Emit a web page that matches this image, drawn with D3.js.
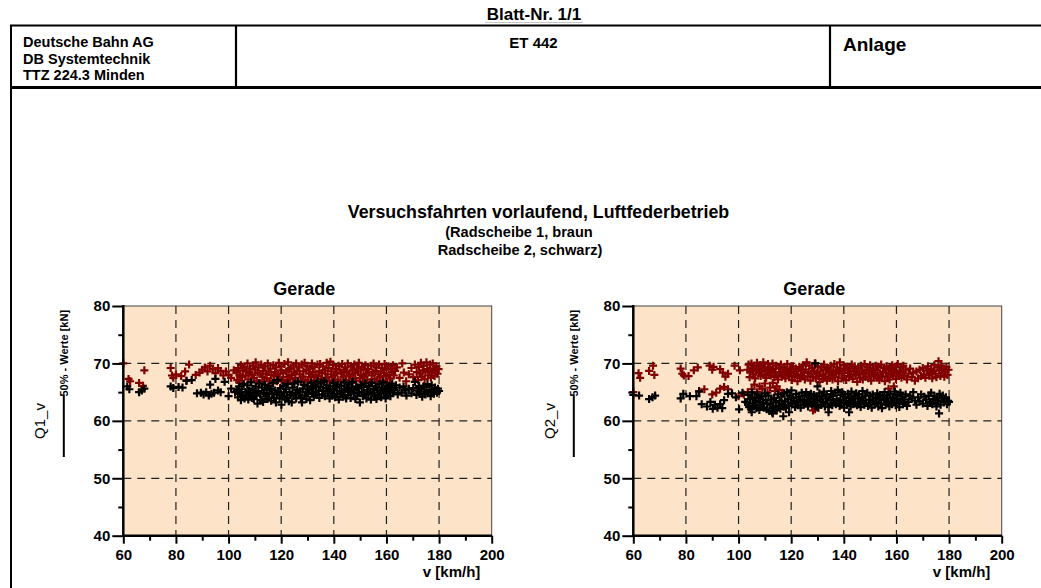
<!DOCTYPE html>
<html>
<head>
<meta charset="utf-8">
<script src="https://cdn.jsdelivr.net/npm/d3@7"></script>
<style>
  body { margin: 0; background: #fff; }
  text { font-family: "Liberation Sans", Arial, sans-serif; fill: #000; }
</style>
</head>
<body>
<svg id="chart" width="1041" height="588"></svg>
<script>

// ---------------------------------------------------------------------------
// data: [v km/h, Q kN]

const xTicks = [60, 80, 100, 120, 140, 160, 180, 200];
const xMinor = [70, 90, 110, 130, 150, 170, 190];
const yTicks = [40, 50, 60, 70, 80];
const yMinor = [45, 55, 65, 75];
const xGrid = [80, 100, 120, 140, 160, 180];
const yGrid = [50, 60, 70];

// Radscheibe 1 (braun), Q1
const q1Braun = [
  [60,70.0],[62,67.3],[62.6,66.9],[66,66.6],[67.5,66.1],[68,68.8],[78,69.2],[78.5,67.9],[79,67.5],[80,68.1],
  [82,67.8],[83.5,68.6],[84,67.0],[85,69.8],[87.5,68.0],[89,68.4],[90,68.9],[91,69.3],[92,68.6],[93,69.6],
  [94,69.0],[95,68.3],[96,69.2],[97,68.7],[98,67.9],[99,68.6],[100,68.0],[101,67.5],[102,68.8],
  [103.0,68.4],[103.3,67.1],[103.7,69.2],[104.0,66.7],[104.4,68.0],[104.7,69.7],[105.1,67.6],[105.4,68.8],[105.8,66.5],[106.1,69.4],
  [106.5,67.9],[106.8,68.6],[107.2,70.0],[107.5,67.2],[107.9,68.3],[108.2,69.1],[108.6,66.8],[108.9,68.0],[109.3,69.6],[109.6,67.5],
  [110.0,68.9],[110.3,70.2],[110.7,67.0],[111.0,68.4],[111.4,69.3],[111.7,66.6],[112.1,68.1],[112.4,69.8],[112.8,67.7],[113.1,68.7],
  [113.5,66.9],[113.8,69.5],[114.2,68.2],[114.5,67.4],[114.9,70.0],[115.2,68.6],[115.6,67.0],[115.9,69.1],[116.3,68.0],[116.6,66.5],
  [117.0,69.7],[117.3,67.8],[117.7,68.5],[118.0,69.3],[118.4,66.9],[118.7,68.1],[119.1,70.1],[119.4,67.4],[119.8,68.8],[120.1,69.5],
  [120.5,67.1],[120.8,68.3],[121.2,69.9],[121.5,66.7],[121.9,68.6],[122.2,67.6],[122.6,70.2],[122.9,68.9],[123.3,67.3],[123.6,69.2],
  [124.0,68.0],[124.3,66.6],[124.7,69.6],[125.0,68.4],[125.4,67.5],[125.7,70.0],[126.1,68.7],[126.4,67.0],[126.8,69.3],[127.1,68.1],
  [127.5,66.8],[127.8,69.8],[128.2,67.7],[128.5,68.6],[128.9,70.1],[129.2,67.2],[129.6,68.9],[129.9,69.5],[130.3,66.9],[130.6,68.2],
  [131.0,69.1],[131.3,67.6],[131.7,70.0],[132.0,68.5],[132.4,67.0],[132.7,69.4],[133.1,68.0],[133.4,66.6],[133.8,69.8],[134.1,67.8],
  [134.5,68.7],[134.8,69.9],[135.2,67.3],[135.5,68.3],[135.9,69.5],[136.2,66.8],[136.6,68.8],[136.9,67.5],[137.3,70.1],[137.6,68.1],
  [138.0,69.2],[138.3,67.0],[138.7,70.3],[139.0,68.6],[139.4,67.6],[139.7,69.7],[140.1,68.0],[140.4,66.7],[140.8,69.0],[141.1,68.4],
  [141.5,67.2],[141.8,69.6],[142.2,68.9],[142.5,66.9],[142.9,68.2],[143.2,69.9],[143.6,67.7],[143.9,68.5],[144.3,69.3],[144.6,67.1],
  [145.0,68.7],[145.3,70.0],[145.7,67.8],[146.0,68.1],[146.4,69.5],[146.7,66.6],[147.1,68.8],[147.4,67.4],[147.8,69.8],[148.1,68.3],
  [148.5,67.0],[148.8,69.1],[149.2,68.6],[149.5,70.1],[149.9,67.5],[150.2,68.0],[150.6,69.4],[150.9,66.8],[151.3,68.9],[151.6,67.7],
  [152.0,69.7],[152.3,68.2],[152.7,67.2],[153.0,69.0],[153.4,68.5],[153.7,66.7],[154.1,69.6],[154.4,67.9],[154.8,68.4],[155.1,70.0],
  [155.5,67.3],[155.8,68.7],[156.2,69.3],[156.5,66.9],[156.9,68.1],[157.2,69.8],[157.6,67.6],[157.9,68.6],[158.3,69.2],[158.6,67.0],
  [159.0,68.3],[159.3,69.9],[159.7,67.8],[160.0,68.9],[160.4,66.6],[160.7,69.5],[161.1,68.0],[161.4,67.4],[161.8,69.1],[162.1,68.5],
  [162.5,69.7],[162.8,67.9],[163.3,68.7],[164.0,69.3],[165.0,67.5],[166.0,70.0],[166.6,68.4],[167.5,66.9],[168.5,68.1],[169.5,69.2],
  [170.2,67.6],[170.8,69.8],[171.5,68.5],[172.0,67.1],[172.4,69.4],[172.7,68.2],[173.1,70.1],[173.4,67.7],[173.8,68.8],[174.1,69.6],
  [174.5,67.3],[174.8,68.5],[175.2,70.2],[175.5,69.0],[175.9,67.9],[176.2,68.7],[176.6,69.8],[176.9,67.5],[177.3,68.4],[177.6,70.0],
  [178.0,69.1],[178.3,67.8],[178.7,68.6],[179.0,69.5],[179.4,68.2],[179.8,69.0]
];

// Radscheibe 2 (schwarz), Q1
const q1Schwarz = [
  [61.5,66.0],[62.3,65.5],[66,65.0],[67,65.3],[68,65.6],[78,66.0],[79,65.7],[81,65.9],[82.5,65.8],[84,67.0],
  [86,67.1],[88,64.8],[89.5,64.9],[90.5,64.6],[91.5,65.0],[92.5,64.4],[93,66.3],[93.5,64.7],[94.5,64.9],[95,67.3],
  [96,65.3],[97,65.0],[98.5,66.8],[100,64.3],[101,65.6],[102.5,65.0],
  [103.2,65.2],[103.6,64.1],[104.0,66.0],[104.3,64.7],[104.7,63.6],[105.0,65.5],[105.4,64.3],[105.7,66.4],[106.1,63.9],[106.4,65.0],
  [106.8,64.5],[107.1,66.2],[107.5,63.7],[107.8,65.3],[108.2,64.8],[108.5,66.7],[108.9,64.0],[109.2,65.6],[109.6,63.8],[109.9,64.9],
  [110.3,66.0],[110.6,64.4],[111.0,63.0],[111.3,65.2],[111.7,66.5],[112.0,64.6],[112.4,63.6],[112.7,65.8],[113.1,63.3],[113.4,64.9],
  [113.8,66.3],[114.1,64.2],[114.5,65.4],[114.8,63.8],[115.2,66.0],[115.5,64.7],[115.9,65.6],[116.2,63.5],[116.6,64.8],[116.9,66.6],
  [117.3,64.0],[117.6,65.3],[118.0,63.2],[118.3,64.6],[118.7,67.1],[119.0,65.0],[119.4,63.9],[119.7,65.7],[120.1,62.8],[120.4,64.4],
  [120.8,66.1],[121.1,64.9],[121.5,63.7],[121.8,65.5],[122.2,64.1],[122.5,66.4],[122.9,63.4],[123.2,65.0],[123.6,64.5],[124.0,63.2],
  [124.3,65.8],[124.7,64.3],[125.0,66.5],[125.4,64.8],[125.7,63.9],[126.1,65.4],[126.4,66.8],[126.8,64.6],[127.1,65.1],[127.5,64.0],
  [127.9,63.2],[128.2,65.6],[128.6,66.3],[128.9,64.4],[129.3,65.0],[129.6,63.8],[130.0,66.0],[130.3,64.7],[130.7,65.4],[131.0,63.6],
  [131.4,66.6],[131.7,64.9],[132.1,65.7],[132.4,64.2],[132.8,66.2],[133.1,65.0],[133.5,64.5],[133.8,66.9],[134.2,65.3],[134.5,64.0],
  [134.9,65.9],[135.2,66.5],[135.6,64.6],[135.9,65.2],[136.3,67.0],[136.6,64.3],[137.0,65.7],[137.3,66.2],[137.7,64.8],[138.0,65.4],
  [138.4,63.9],[138.7,66.0],[139.1,65.0],[139.4,64.4],[139.8,66.6],[140.1,65.5],[140.5,64.1],[140.8,65.9],[141.2,64.7],[141.5,66.3],
  [141.9,63.7],[142.2,65.2],[142.6,64.6],[142.9,66.1],[143.3,65.0],[143.6,64.2],[144.0,66.7],[144.3,65.4],[144.7,63.9],[145.0,65.8],
  [145.4,64.5],[145.7,66.4],[146.1,65.1],[146.4,64.0],[146.8,65.6],[147.1,66.8],[147.5,64.8],[147.8,65.3],[148.2,63.8],[148.5,66.0],
  [148.9,64.4],[149.2,65.7],[149.6,64.9],[149.9,63.2],[150.3,66.3],[150.6,65.0],[151.0,64.3],[151.3,65.9],[151.7,64.7],[152.0,66.5],
  [152.4,63.9],[152.7,65.4],[153.1,64.6],[153.4,66.1],[153.8,65.1],[154.1,63.7],[154.5,66.6],[154.8,64.9],[155.2,65.6],[155.5,64.2],
  [155.9,66.0],[156.2,63.8],[156.6,65.3],[156.9,64.5],[157.3,66.4],[157.6,65.0],[158.0,64.1],[158.3,65.8],[158.7,66.7],[159.0,64.8],
  [159.4,65.5],[159.7,63.9],[160.1,66.2],[160.4,64.6],[160.8,65.2],[161.1,66.0],[161.5,64.3],[161.8,65.7],[162.2,66.5],[162.5,64.9],
  [163.0,65.4],[163.6,66.2],[164.3,64.6],[165.0,65.8],[165.8,64.9],[166.5,66.0],[167.0,65.3],[167.6,64.4],[168.5,65.6],[169.5,64.8],
  [170.2,65.7],[170.8,66.8],[171.4,64.5],[172.0,65.3],[172.4,66.1],[172.8,64.7],[173.2,65.6],[173.6,64.2],[174.0,66.0],[174.4,65.1],
  [174.8,64.6],[175.2,65.9],[175.6,66.4],[176.0,64.9],[176.4,65.4],[176.8,64.3],[177.2,66.2],[177.6,65.0],[178.0,64.7],[178.4,65.8],
  [178.8,65.3],[179.2,64.9],[179.6,65.6],[180.0,65.2]
];

// Radscheibe 1 (braun), Q2
const q2Braun = [
  [60,65.0],[62,68.3],[62.6,67.5],[66,68.7],[67.5,69.6],[68,68.0],[78,69.1],[78.6,68.2],[79.2,67.9],[81,67.8],
  [83,68.8],[84.5,69.3],[89,69.6],[90,68.9],[90.5,69.4],[93,69.0],[94,68.4],[95,67.7],[96,68.2],[98.5,69.6],[100.5,68.8],
  [85,65.2],[87,65.5],[90,64.6],[91.5,64.9],[93,65.6],[94.5,65.9],[96,65.5],[100,64.3],[102,64.6],[103.5,65.0],
  [105,65.5],[106,66.3],[107,65.0],[108,66.0],[109,65.6],[110,66.5],[111,64.9],[112,65.8],[113,66.6],[113.8,65.2],
  [114.5,66.0],[115.5,65.4],[116.5,64.8],[117.2,62.5],[128.3,61.8],[129,62.0],[157,65.6],[159,66.0],
  [103.4,68.9],[103.8,69.8],[104.2,67.6],[104.5,68.5],[104.9,70.0],[105.2,69.2],[105.6,68.1],[105.9,69.6],[106.3,67.4],[106.6,68.8],
  [107.0,70.1],[107.3,69.0],[107.7,68.3],[108.0,69.7],[108.4,67.8],[108.7,68.6],[109.1,69.4],[109.4,70.2],[109.8,68.0],[110.1,69.1],
  [110.5,67.5],[110.8,68.7],[111.2,69.9],[111.5,68.2],[111.9,69.3],[112.2,67.9],[112.6,68.8],[112.9,70.0],[113.3,69.0],[113.6,67.6],
  [114.0,68.4],[114.3,69.6],[114.7,68.0],[115.0,67.2],[115.4,69.2],[115.7,68.5],[116.1,69.8],[116.4,67.7],[116.8,68.9],[117.1,68.1],
  [117.5,69.4],[117.8,67.4],[118.2,68.6],[118.5,69.9],[118.9,68.3],[119.2,67.8],[119.6,69.0],[119.9,68.5],[120.3,67.1],[120.6,69.5],
  [121.0,68.2],[121.3,67.6],[121.7,69.1],[122.0,68.7],[122.4,66.9],[122.7,68.0],[123.1,69.4],[123.4,67.5],[123.8,68.8],[124.1,67.9],
  [124.5,69.7],[124.8,68.4],[125.2,67.2],[125.5,68.9],[125.9,70.2],[126.2,67.7],[126.6,68.5],[126.9,69.6],[127.3,67.0],[127.6,68.2],
  [128.0,69.2],[128.3,67.6],[128.7,68.7],[129.0,70.0],[129.4,67.4],[129.7,68.3],[130.1,69.5],[130.4,67.8],[130.8,66.8],[131.1,68.6],
  [131.5,69.3],[131.8,67.3],[132.2,68.1],[132.5,69.8],[132.9,67.7],[133.2,68.9],[133.6,67.0],[133.9,69.2],[134.3,68.4],[134.6,67.5],
  [135.0,69.6],[135.3,68.0],[135.7,67.2],[136.0,68.8],[136.4,69.9],[136.7,67.6],[137.1,68.5],[137.4,69.3],[137.8,66.9],[138.1,68.2],
  [138.5,70.2],[138.8,69.0],[139.2,67.4],[139.5,68.6],[139.9,69.7],[140.2,67.8],[140.6,68.9],[140.9,67.1],[141.3,69.4],[141.6,68.3],
  [142.0,67.6],[142.3,69.1],[142.7,68.0],[143.0,69.8],[143.4,67.3],[143.7,68.7],[144.1,69.5],[144.4,67.9],[144.8,68.4],[145.1,66.8],
  [145.5,69.2],[145.8,68.1],[146.2,67.5],[146.5,69.6],[146.9,68.8],[147.2,67.2],[147.6,68.4],[147.9,69.9],[148.3,67.7],[148.6,68.9],
  [149.0,69.3],[149.3,67.4],[149.7,68.2],[150.0,69.7],[150.4,67.0],[150.7,68.6],[151.1,69.1],[151.4,67.8],[151.8,68.3],[152.1,69.6],
  [152.5,67.5],[152.8,68.8],[153.2,69.4],[153.5,67.1],[153.9,68.0],[154.2,69.8],[154.6,67.7],[154.9,68.5],[155.3,69.2],[155.6,66.9],
  [156.0,68.4],[156.3,69.5],[156.7,67.6],[157.0,68.9],[157.4,67.2],[157.7,69.0],[158.1,68.1],[158.4,69.7],[158.8,67.8],[159.1,68.6],
  [159.5,69.4],[159.8,67.3],[160.2,68.3],[160.5,69.9],[160.9,67.9],[161.2,68.7],[161.6,69.3],[161.9,67.5],[162.3,68.5],[162.6,69.6],
  [163.0,67.8],[163.5,68.9],[164.0,67.2],[164.6,68.2],[165.2,69.1],[165.8,67.6],[166.4,68.4],[167.0,67.0],[167.6,68.6],[168.2,67.4],
  [168.8,68.9],[169.4,67.8],[170.0,69.2],[170.5,68.1],[171.0,67.5],[171.5,68.8],[172.0,69.5],[172.4,67.9],[172.8,68.4],[173.2,69.0],
  [173.6,67.4],[174.0,68.6],[174.4,69.7],[174.8,68.2],[175.2,67.6],[175.6,69.3],[176.0,70.4],[176.3,68.8],[176.7,67.8],[177.0,69.6],
  [177.4,68.3],[177.8,69.1],[178.2,67.7],[178.6,68.7],[179.0,69.4],[179.4,68.0],[179.8,68.9]
];

// Radscheibe 2 (schwarz), Q2
const q2Schwarz = [
  [60,64.5],[62.2,64.4],[66,63.8],[67.3,64.1],[68.3,64.4],[78,63.9],[79,64.7],[81.5,64.3],[84,64.3],[85,65.1],
  [86,62.9],[88,62.5],[89.3,63.3],[90.2,62.1],[91,62.8],[92,62.3],[93,62.9],[93.8,62.2],[94.5,63.6],[96,64.7],
  [97.5,64.8],[99,64.1],[100.2,62.0],[101.5,64.9],[102.5,63.3],
  [129.2,70.0],[130,66.0],[117,60.8],[119.2,61.5],[134.2,61.5],[142,61.5],[176.2,61.3],[105,61.5],[113,61.3],
  [103.3,63.2],[103.7,64.5],[104.0,62.4],[104.4,63.8],[104.7,62.0],[105.1,64.9],[105.4,63.0],[105.8,62.6],[106.1,64.1],[106.5,63.5],
  [106.8,62.2],[107.2,64.6],[107.5,63.3],[107.9,61.9],[108.2,63.9],[108.6,62.7],[108.9,64.3],[109.3,63.1],[109.6,62.3],[110.0,64.8],
  [110.3,63.6],[110.7,62.0],[111.0,63.0],[111.4,64.4],[111.7,61.7],[112.1,62.8],[112.4,63.7],[112.8,61.5],[113.1,62.4],[113.5,64.0],
  [113.8,62.0],[114.2,63.2],[114.5,61.8],[114.9,64.6],[115.2,62.6],[115.6,63.5],[115.9,62.1],[116.3,64.2],[116.6,63.0],[117.0,62.5],
  [117.3,64.8],[117.7,63.4],[118.0,62.2],[118.4,65.0],[118.7,63.8],[119.1,62.7],[119.4,64.4],[119.8,63.1],[120.1,65.3],[120.5,62.9],
  [120.8,64.0],[121.2,63.5],[121.5,62.4],[121.9,64.7],[122.2,63.2],[122.6,62.7],[122.9,64.2],[123.3,63.7],[123.6,62.3],[124.0,64.9],
  [124.3,63.4],[124.7,62.8],[125.0,64.4],[125.4,63.0],[125.7,65.0],[126.1,63.6],[126.4,62.5],[126.8,64.1],[127.1,63.2],[127.5,64.7],
  [127.9,62.9],[128.2,63.8],[128.6,64.5],[128.9,63.1],[129.3,62.6],[129.6,64.2],[130.0,63.5],[130.3,62.3],[130.7,64.8],[131.0,63.7],
  [131.4,62.8],[131.7,64.3],[132.1,63.3],[132.4,65.1],[132.8,62.5],[133.1,63.9],[133.5,64.6],[133.8,63.0],[134.2,62.4],[134.5,64.1],
  [134.9,63.6],[135.2,65.2],[135.6,62.7],[135.9,64.4],[136.3,63.2],[136.6,64.9],[137.0,62.9],[137.3,63.8],[137.7,65.4],[138.0,63.4],
  [138.4,62.6],[138.7,64.5],[139.1,63.1],[139.4,65.0],[139.8,63.7],[140.1,62.3],[140.5,64.2],[140.8,63.5],[141.2,62.8],[141.5,64.7],
  [141.9,63.3],[142.2,64.0],[142.6,62.5],[142.9,65.1],[143.3,63.6],[143.6,62.9],[144.0,64.3],[144.3,63.0],[144.7,64.8],[145.0,62.7],
  [145.4,63.9],[145.7,64.6],[146.1,63.2],[146.4,62.4],[146.8,64.1],[147.1,65.2],[147.5,63.5],[147.8,62.8],[148.2,64.4],[148.5,63.1],
  [148.9,64.9],[149.2,62.6],[149.6,63.7],[149.9,64.3],[150.3,63.0],[150.6,62.3],[151.0,64.6],[151.3,63.4],[151.7,62.9],[152.0,64.0],
  [152.4,63.3],[152.7,64.8],[153.1,62.5],[153.4,63.8],[153.8,64.5],[154.1,63.0],[154.5,62.2],[154.8,64.2],[155.2,63.6],[155.5,65.0],
  [155.9,62.8],[156.2,63.9],[156.6,64.4],[156.9,63.2],[157.3,62.5],[157.6,64.7],[158.0,63.4],[158.3,62.9],[158.7,64.1],[159.0,63.6],
  [159.4,65.1],[159.7,62.7],[160.1,63.8],[160.4,64.5],[160.8,63.1],[161.1,62.4],[161.5,64.9],[161.8,63.5],[162.2,64.2],[162.5,62.9],
  [163.0,63.7],[163.5,64.6],[164.0,62.6],[164.6,63.3],[165.2,64.3],[165.8,63.9],[166.4,65.0],[167.0,63.5],[167.6,62.8],[168.2,64.1],
  [168.8,63.4],[169.4,64.6],[170.0,63.0],[170.6,64.2],[171.2,63.7],[171.8,62.6],[172.3,64.4],[172.8,63.3],[173.2,64.9],[173.6,62.9],
  [174.0,63.8],[174.4,64.3],[174.8,63.1],[175.2,62.5],[175.6,64.0],[176.0,63.5],[176.4,64.7],[176.8,62.8],[177.2,63.9],[177.6,64.4],
  [178.0,63.2],[178.4,63.7],[178.8,64.1],[179.2,62.9],[179.6,63.5],[180.0,63.3]
];

//-------------------------------------------------------------------------------

const BRAUN = '#800000';
const PEACH = '#fde4c8';
const svg = d3.select('#chart');

// sheet frame (title block)
function DrawSheet() {
    const ln = (x1, y1, x2, y2, w, c) => svg.append('line')
        .attr('x1', x1).attr('y1', y1).attr('x2', x2).attr('y2', y2)
        .attr('stroke', c || '#000').attr('stroke-width', w);

    ln(485, 22.5, 583, 22.5, 1, '#c8c8c8');       // faint underline of Blatt-Nr.
    ln(10, 25.5, 1041, 25.5, 2);
    ln(10, 87.5, 1041, 87.5, 3);
    ln(11, 25, 11, 588, 2);
    ln(236, 25, 236, 88, 2.2);
    ln(830, 25, 830, 88, 2.2);

    const txt = (s, x, y, size, anchor) => svg.append('text')
        .attr('x', x).attr('y', y)
        .attr('font-size', size).attr('font-weight', 'bold')
        .attr('text-anchor', anchor || 'start')
        .text(s);

    txt('Blatt-Nr. 1/1', 534, 20, 17, 'middle');
    txt('Deutsche Bahn AG', 23, 47, 14.5);
    txt('DB Systemtechnik', 23, 63.5, 14.5);
    txt('TTZ 224.3 Minden', 23, 80, 14.5);
    txt('ET 442', 533.5, 48, 15, 'middle');
    txt('Anlage', 843, 51, 19);

    txt('Versuchsfahrten vorlaufend, Luftfederbetrieb', 538.5, 218, 17.8, 'middle');
    txt('(Radscheibe 1, braun', 519, 236.5, 14.6, 'middle');
    txt('Radscheibe 2, schwarz)', 520, 255, 14.6, 'middle');
}

//-------------------------------------------------------------------------------
// one scatter panel; left = pixel x of the v=60 axis

function DrawPanel(left, qName, braun, schwarz) {

    const top = 306, bottom = 535.7, width = 368.4;

    const x = d3.scaleLinear().domain([60, 200]).range([left, left + width]);
    const y = d3.scaleLinear().domain([40, 80]).range([bottom, top]);

    const g = svg.append('g');

    g.append('rect')
        .attr('x', x(60)).attr('y', y(80))
        .attr('width', x(200) - x(60)).attr('height', y(40) - y(80))
        .attr('fill', PEACH)
        .attr('stroke', '#444').attr('stroke-width', 1);

    // dashed grid
    g.selectAll('.vgrid').data(xGrid).join('line')
        .attr('x1', x).attr('x2', x)
        .attr('y1', y(80)).attr('y2', y(40))
        .attr('stroke', '#222').attr('stroke-width', 1.2).attr('stroke-dasharray', '8,6');
    g.selectAll('.hgrid').data(yGrid).join('line')
        .attr('x1', x(60)).attr('x2', x(200))
        .attr('y1', y).attr('y2', y)
        .attr('stroke', '#222').attr('stroke-width', 1.2).attr('stroke-dasharray', '8,6');

    // crosses
    const cross = 'M-4,0H4M0,-4V4';
    const plot = (data, colour) => g.append('g').selectAll('path')
        .data(data).join('path')
        .attr('d', cross)
        .attr('transform', d => `translate(${x(d[0])},${y(d[1])})`)
        .attr('stroke', colour).attr('stroke-width', 2.2).attr('fill', 'none');

    plot(braun, BRAUN);
    plot(schwarz, '#000');

    // axes
    g.append('g').attr('transform', `translate(0,${bottom})`)
        .call(d3.axisBottom(x).tickValues(xTicks).tickSize(8).tickPadding(6).tickFormat(d3.format('d')));
    g.append('g').attr('transform', `translate(0,${bottom})`)
        .call(d3.axisBottom(x).tickValues(xMinor).tickSize(5).tickFormat(''));
    g.append('g').attr('transform', `translate(${left},0)`)
        .call(d3.axisLeft(y).tickValues(yTicks).tickSize(11).tickPadding(2).tickFormat(d3.format('d')));
    g.append('g').attr('transform', `translate(${left},0)`)
        .call(d3.axisLeft(y).tickValues(yMinor).tickSize(5).tickFormat(''));

    g.selectAll('.domain').remove();
    g.selectAll('.tick line').attr('stroke', '#000').attr('stroke-width', 2);
    g.selectAll('.tick text')
        .attr('font-size', 15).attr('font-weight', 'bold')
        .attr('font-family', '"Liberation Sans", Arial, sans-serif').attr('fill', '#000');

    // heavy left & bottom axis lines
    g.append('line').attr('x1', x(60)).attr('x2', x(60)).attr('y1', y(80) - 1).attr('y2', y(40) + 1)
        .attr('stroke', '#000').attr('stroke-width', 2.5);
    g.append('line').attr('x1', x(60) - 1).attr('x2', x(200)).attr('y1', y(40)).attr('y2', y(40))
        .attr('stroke', '#000').attr('stroke-width', 2.5);

    // titles
    g.append('text').attr('x', left + 181).attr('y', 295)
        .attr('text-anchor', 'middle').attr('font-size', 18).attr('font-weight', 'bold')
        .text('Gerade');
    g.append('text').attr('x', left + 357).attr('y', 577)
        .attr('text-anchor', 'end').attr('font-size', 15).attr('font-weight', 'bold')
        .text('v [km/h]');

    // y-axis label as fraction: Q?_v over "50% - Werte [kN]"
    g.append('text')
        .attr('transform', `translate(${left - 78},421) rotate(-90)`)
        .attr('text-anchor', 'middle').attr('font-size', 15)
        .text(qName);
    g.append('line')
        .attr('x1', left - 59.5).attr('x2', left - 59.5).attr('y1', 396).attr('y2', 457)
        .attr('stroke', '#000').attr('stroke-width', 2);
    g.append('text')
        .attr('transform', `translate(${left - 55},396.5) rotate(-90)`)
        .attr('font-size', 11).attr('font-weight', 'bold')
        .text('50% - Werte [kN]');
}

DrawSheet();
DrawPanel(123.3, 'Q1_v', q1Braun, q1Schwarz);
DrawPanel(633.3, 'Q2_v', q2Braun, q2Schwarz);

</script>
</body>
</html>
